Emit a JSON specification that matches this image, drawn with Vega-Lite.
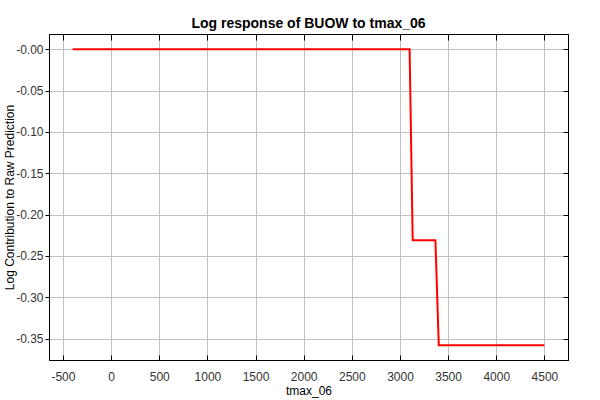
{
  "$schema": "https://vega.github.io/schema/vega-lite/v6.json",
  "width": 519,
  "height": 326,
  "autosize": {"type": "none"},
  "padding": {"left": 49, "top": 34, "right": 32, "bottom": 40},
  "background": "white",
  "title": {"text": "Log response of BUOW to tmax_06", "font": "Liberation Sans", "fontSize": 14, "fontWeight": "bold", "color": "black", "offset": 3, "anchor": "middle"},
  "config": {
    "view": {"stroke": "black", "strokeWidth": 1},
    "axis": {"labelFont": "Liberation Sans", "labelFontSize": 12, "labelColor": "#333333", "titleFont": "Liberation Sans", "titleFontSize": 12, "titleFontWeight": "normal", "titleColor": "black", "domainColor": "black", "tickColor": "black", "gridColor": "#c0c0c0", "gridOpacity": 1, "gridWidth": 1}
  },
  "data": {"values": [
    {"x": -400, "y": 0},
    {"x": 3100, "y": 0},
    {"x": 3132, "y": -0.231},
    {"x": 3368, "y": -0.231},
    {"x": 3403, "y": -0.358},
    {"x": 4500, "y": -0.358}
  ]},
  "layer": [
    {
      "mark": {"type": "line", "color": "#ff0000", "strokeWidth": 2},
      "encoding": {
        "x": {"field": "x", "type": "quantitative", "scale": {"domain": [-645, 4745], "nice": false, "zero": false},
              "axis": {"orient": "bottom", "title": "tmax_06", "values": [-500,0,500,1000,1500,2000,2500,3000,3500,4000,4500], "format": "d", "labelExpr": "replace(datum.label, '\u2212', '-')", "tickSize": -5, "labelPadding": 16, "titlePadding": 3, "labelFlush": false, "labelOverlap": false}},
        "y": {"field": "y", "type": "quantitative", "scale": {"domain": [-0.376, 0.0185], "nice": false, "zero": false},
              "axis": {"orient": "left", "title": "Log Contribution to Raw Prediction", "values": [0,-0.05,-0.1,-0.15,-0.2,-0.25,-0.3,-0.35], "labelExpr": "datum.value == 0 ? '-0.00' : replace(format(datum.value, '.2f'), '\u2212', '-')", "tickSize": 4, "labelPadding": 2, "titlePadding": -1, "labelFlush": false, "labelOverlap": false}}
      }
    },
    {
      "mark": {"type": "line", "opacity": 0},
      "encoding": {
        "x": {"field": "x", "type": "quantitative", "axis": {"orient": "top", "title": null, "labels": false, "grid": false, "values": [-500,0,500,1000,1500,2000,2500,3000,3500,4000,4500], "tickSize": -6}},
        "y": {"field": "y", "type": "quantitative", "axis": {"orient": "right", "title": null, "labels": false, "grid": false, "values": [0,-0.05,-0.1,-0.15,-0.2,-0.25,-0.3,-0.35], "tickSize": -5}}
      }
    }
  ],
  "resolve": {"axis": {"x": "independent", "y": "independent"}}
}
